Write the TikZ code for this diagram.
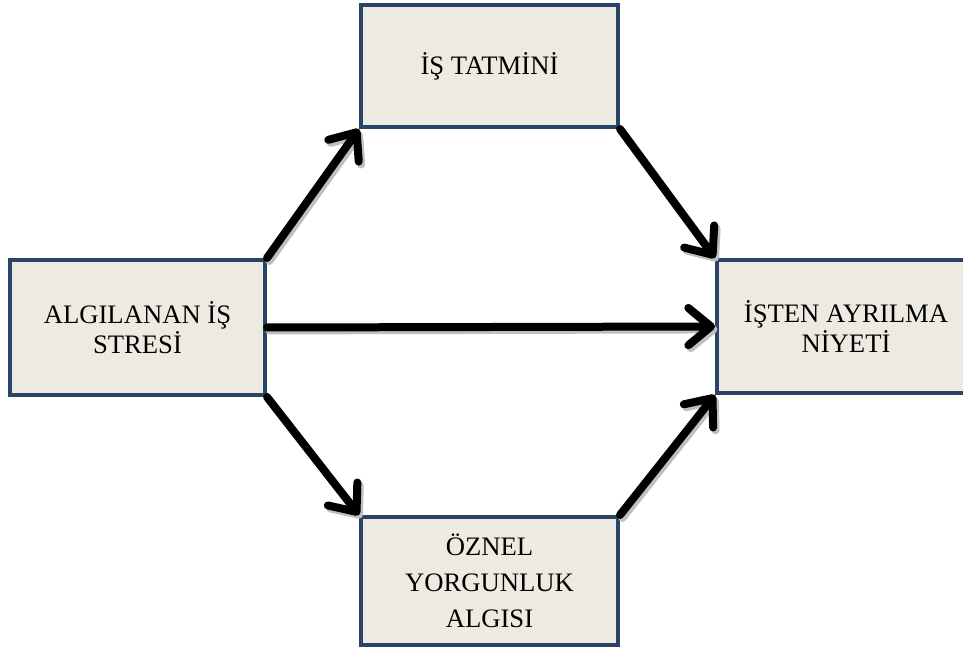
\documentclass[tikz,border=0pt]{standalone}
\usepackage{fontspec}
\setmainfont{Liberation Serif}
\usetikzlibrary{arrows.meta,positioning}

\definecolor{kutudolgu}{HTML}{EDEBE1}
\definecolor{kutucizgi}{HTML}{2A4468}

\tikzset{
	kutu/.style={draw=kutucizgi,fill=kutudolgu,line width=3pt,align=center,
		font=\fontsize{20}{22.5}\selectfont,inner sep=0pt},
	ok/.style={line width=6pt,line cap=round,
		-{Straight Barb[length=17pt,width=28pt,line cap=round,line join=round]}},
}

\begin{document}
\begin{tikzpicture}[x=0.75pt,y=-0.75pt]
	\clip (0,0) rectangle (963,648);
	\node[kutu,minimum width=191.25pt,minimum height=101.25pt] (stres) at (137.5,327.5) {ALGILANAN İŞ\\STRESİ};
	\node[kutu,minimum width=192.75pt,minimum height=91.5pt] (tatmin) at (489.5,66) {İŞ TATMİNİ};
	\node[kutu,minimum width=192.75pt,minimum height=96pt] (yorgunluk) at (489.5,581) {ÖZNEL\\[4.5pt]YORGUNLUK\\[4.5pt]ALGISI};
	\node[kutu,minimum width=193.5pt,minimum height=99.75pt] (niyet) at (846,326.5) {İŞTEN AYRILMA\\NİYETİ};

	% oklar, once golgeleri
	\foreach \a/\b in {stres.north east/tatmin.south west,tatmin.south east/niyet.north west,
		stres.east/niyet.west,stres.south east/yorgunluk.north west,yorgunluk.north east/niyet.south west}
	{
		\begin{scope}[transform canvas={shift={(1.8pt,-2.2pt)}}]
			\draw[ok,draw=black!25] (\a) -- (\b);
		\end{scope}
		\draw[ok] (\a) -- (\b);
	}
\end{tikzpicture}
\end{document}
